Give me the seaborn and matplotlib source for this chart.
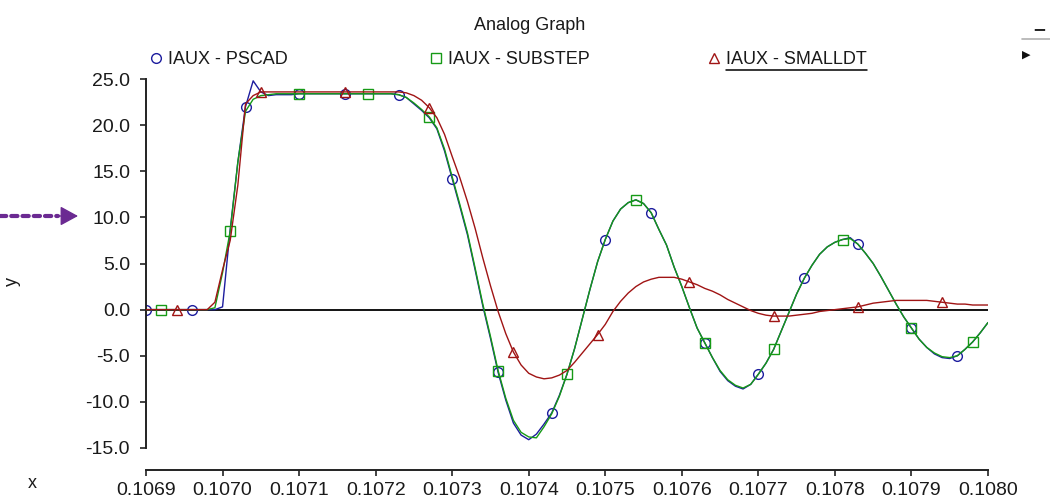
import numpy as np
import pandas as pd
import matplotlib
matplotlib.use("Agg")
import matplotlib.pyplot as plt
import seaborn as sns
from matplotlib.lines import Line2D
from matplotlib.ticker import FormatStrFormatter

# ---------------- data ----------------
t_start = 0.10690
t_step = 0.00001
n_pts = 111
time = t_start + t_step * np.arange(n_pts)

iaux_pscad = [
    0.0, 0.0, 0.0, 0.0, 0.0, 0.0, 0.0, 0.0, 0.0, 0.0,
    0.3, 8.7, 16.0, 22.0, 24.8, 23.6, 23.2, 23.3, 23.3, 23.3,
    23.4, 23.4, 23.4, 23.4, 23.4, 23.4, 23.4, 23.4, 23.4, 23.4,
    23.4, 23.4, 23.4, 23.3, 23.0, 22.3, 21.6, 20.8, 19.6, 17.2,
    14.2, 11.2, 8.1, 4.3, 0.4, -3.1, -6.8, -9.8, -12.3, -13.6,
    -14.1, -13.5, -12.4, -11.2, -9.3, -7.0, -4.2, -1.0, 2.2, 5.2,
    7.6, 9.6, 10.9, 11.6, 11.9, 11.5, 10.5, 8.7, 7.0, 4.6,
    2.5, 0.2, -2.0, -3.6, -5.2, -6.7, -7.7, -8.3, -8.6, -8.1,
    -7.0, -5.8, -4.3, -2.3, -0.3, 1.7, 3.4, 4.8, 6.0, 6.8,
    7.3, 7.6, 7.8, 7.1, 6.1, 5.0, 3.6, 2.1, 0.6, -0.8,
    -2.0, -3.2, -4.1, -4.8, -5.2, -5.3, -5.0, -4.3, -3.5, -2.5,
    -1.4,
]

iaux_substep = [
    0.0, 0.0, 0.0, 0.0, 0.0, 0.0, 0.0, 0.0, 0.0, 0.2,
    4.0, 8.5, 16.0, 21.5, 22.8, 23.2, 23.3, 23.4, 23.4, 23.4,
    23.4, 23.4, 23.4, 23.4, 23.4, 23.4, 23.4, 23.4, 23.4, 23.4,
    23.4, 23.4, 23.4, 23.3, 23.0, 22.4, 21.7, 20.9, 19.7, 17.4,
    14.4, 11.4, 8.3, 4.5, 0.6, -2.9, -6.6, -9.6, -12.0, -13.3,
    -13.8, -13.9, -12.7, -11.3, -9.4, -7.0, -4.2, -1.0, 2.2, 5.2,
    7.6, 9.6, 10.9, 11.6, 11.9, 11.5, 10.5, 8.7, 7.0, 4.6,
    2.5, 0.2, -2.0, -3.6, -5.2, -6.6, -7.6, -8.2, -8.5, -8.1,
    -7.0, -5.8, -4.3, -2.3, -0.3, 1.7, 3.4, 4.8, 6.0, 6.8,
    7.3, 7.6, 7.7, 7.1, 6.1, 5.0, 3.6, 2.1, 0.6, -0.8,
    -2.0, -3.2, -4.1, -4.7, -5.1, -5.2, -5.0, -4.3, -3.5, -2.5,
    -1.4,
]

iaux_smalldt = [
    0.0, 0.0, 0.0, 0.0, 0.0, 0.0, 0.0, 0.0, 0.0, 0.8,
    4.3, 7.5, 13.5, 22.3, 23.2, 23.6, 23.6, 23.6, 23.6, 23.6,
    23.6, 23.6, 23.6, 23.6, 23.6, 23.6, 23.6, 23.6, 23.6, 23.6,
    23.6, 23.6, 23.6, 23.6, 23.5, 23.2, 22.7, 21.9, 20.8, 19.0,
    16.6, 14.3, 11.7, 8.8, 5.6, 2.6, -0.2, -2.6, -4.6, -6.0,
    -6.9, -7.3, -7.5, -7.4, -7.1, -6.6, -5.7, -4.7, -3.7, -2.7,
    -1.6, -0.2, 0.9, 1.8, 2.5, 3.0, 3.3, 3.5, 3.5, 3.5,
    3.3, 3.0, 2.7, 2.3, 2.0, 1.6, 1.1, 0.7, 0.3, -0.1,
    -0.4, -0.6, -0.7, -0.7, -0.7, -0.6, -0.5, -0.4, -0.2, -0.1,
    0.0, 0.1, 0.2, 0.3, 0.5, 0.7, 0.8, 0.9, 1.0, 1.0,
    1.0, 1.0, 1.0, 0.9, 0.8, 0.7, 0.6, 0.6, 0.5, 0.5,
    0.5,
]

series_names = ["IAUX - PSCAD", "IAUX - SUBSTEP", "IAUX - SMALLDT"]
x_ticks = [0.1069, 0.1070, 0.1071, 0.1072, 0.1073, 0.1074, 0.1075,
           0.1076, 0.1077, 0.1078, 0.1079, 0.1080]
y_ticks = [-15.0, -10.0, -5.0, 0.0, 5.0, 10.0, 15.0, 20.0, 25.0]

# ---------------- style ----------------
sns.set_style("ticks")
plt.rcParams["font.family"] = ["Liberation Sans", "DejaVu Sans"]
plt.rcParams["axes.unicode_minus"] = False

colors = ["#1C1C9E", "#169A16", "#A01414"]
markers = ["o", "s", "^"]
mark_start = [-0.25, 1.96, 4.2]
mark_step = [6.67, 8.87, 11.05]

W, H = 1050, 504
fig = plt.figure(figsize=(W / 100, H / 100), dpi=100)
ax = fig.add_axes([146 / W, 56 / H, 842 / W, 369 / H])

df = pd.DataFrame({"time": time, series_names[0]: iaux_pscad,
                   series_names[1]: iaux_substep, series_names[2]: iaux_smalldt})

ax.axhline(0, color="black", lw=1.3, zorder=1)

for k, name in enumerate(series_names):
    idx = np.round(np.arange(mark_start[k], n_pts - 0.5, mark_step[k])).astype(int)
    idx = [int(i) for i in idx if 0 <= i < n_pts]
    sns.lineplot(data=df, x="time", y=name, ax=ax, color=colors[k], lw=1.0,
                 marker=markers[k], markersize=7, markerfacecolor="none",
                 markeredgecolor=colors[k], markeredgewidth=1.0,
                 markevery=idx, zorder=2 + k, clip_on=True)

ax.set_xlim(x_ticks[0], x_ticks[-1])
ax.set_ylim(y_ticks[0], y_ticks[-1])
ax.set_xticks(x_ticks)
ax.set_yticks(y_ticks)
ax.xaxis.set_major_formatter(FormatStrFormatter("%.4f"))
ax.yaxis.set_major_formatter(FormatStrFormatter("%.1f"))
ax.set_xlabel("")
ax.set_ylabel("")

for s in ["top", "right"]:
    ax.spines[s].set_visible(False)
ax.spines["bottom"].set_position(("outward", 15.8))
for s in ["left", "bottom"]:
    ax.spines[s].set_linewidth(1.4)
    ax.spines[s].set_color("#222222")
ax.tick_params(axis="both", direction="out", length=4.5, width=1.2,
               color="#222222", labelsize=14, labelcolor="#1a1a1a")
ax.tick_params(axis="y", pad=7)
ax.tick_params(axis="x", pad=4)

# title and axis names
fig.text(530 / W, 1 - 25 / H, "Analog Graph", ha="center", va="center",
         fontsize=13, color="#1a1a1a")
fig.text(12 / W, 1 - 281 / H, "y", rotation=90, ha="center", va="center",
         fontsize=13, color="#1a1a1a")
fig.text(32 / W, 1 - 484 / H, "x", ha="center", va="center",
         fontsize=13, color="#1a1a1a")

# legend entries in three equal cells
leg_x = [149, 429, 707]
legends = []
for k, name in enumerate(series_names):
    h = Line2D([], [], color=colors[k], marker=markers[k], linestyle="none",
               markersize=7, markerfacecolor="none", markeredgewidth=1.0)
    leg = fig.legend(handles=[h], labels=[name], loc="center left",
                     bbox_to_anchor=(leg_x[k] / W, 1 - 60 / H), frameon=False,
                     fontsize=13, handlelength=0.8, handletextpad=0.25,
                     borderpad=0, borderaxespad=0)
    for tx in leg.get_texts():
        tx.set_color("#1a1a1a")
    legends.append(leg)

fig.canvas.draw()
renderer = fig.canvas.get_renderer()
bb = legends[2].get_texts()[0].get_window_extent(renderer)
fig.add_artist(Line2D([bb.x0 / W, bb.x1 / W], [(bb.y0 - 1.5) / H] * 2,
                      transform=fig.transFigure, color="black", lw=1.1))

# small window widgets top right
fig.text(1039 / W, 1 - 29 / H, "\u2212", ha="center", va="center",
         fontsize=12, fontweight="bold", color="#222222",
         family=["DejaVu Sans"])
fig.add_artist(Line2D([1022 / W, 1050 / W], [1 - 39 / H] * 2,
                      transform=fig.transFigure, color="#b0b0b0", lw=1.2))
fig.text(1026 / W, 1 - 55 / H, "\u25B6", ha="center", va="center",
         fontsize=8, color="#111111", family=["DejaVu Sans"])

# purple pointer arrow
purple = "#6B2A92"
ax.annotate("", xy=(58, H - 216), xytext=(0, H - 216),
            xycoords="figure pixels", textcoords="figure pixels",
            arrowprops=dict(arrowstyle="-", color=purple, lw=3.0,
                            linestyle=(0, (1.5, 1.2)), shrinkA=0, shrinkB=0),
            annotation_clip=False)
ax.annotate("", xy=(78, H - 216), xytext=(56, H - 216),
            xycoords="figure pixels", textcoords="figure pixels",
            arrowprops=dict(arrowstyle="-|>,head_length=1.1,head_width=0.6",
                            color=purple, lw=1.0, shrinkA=0, shrinkB=0),
            annotation_clip=False)

fig.savefig("out.png", dpi=100)
